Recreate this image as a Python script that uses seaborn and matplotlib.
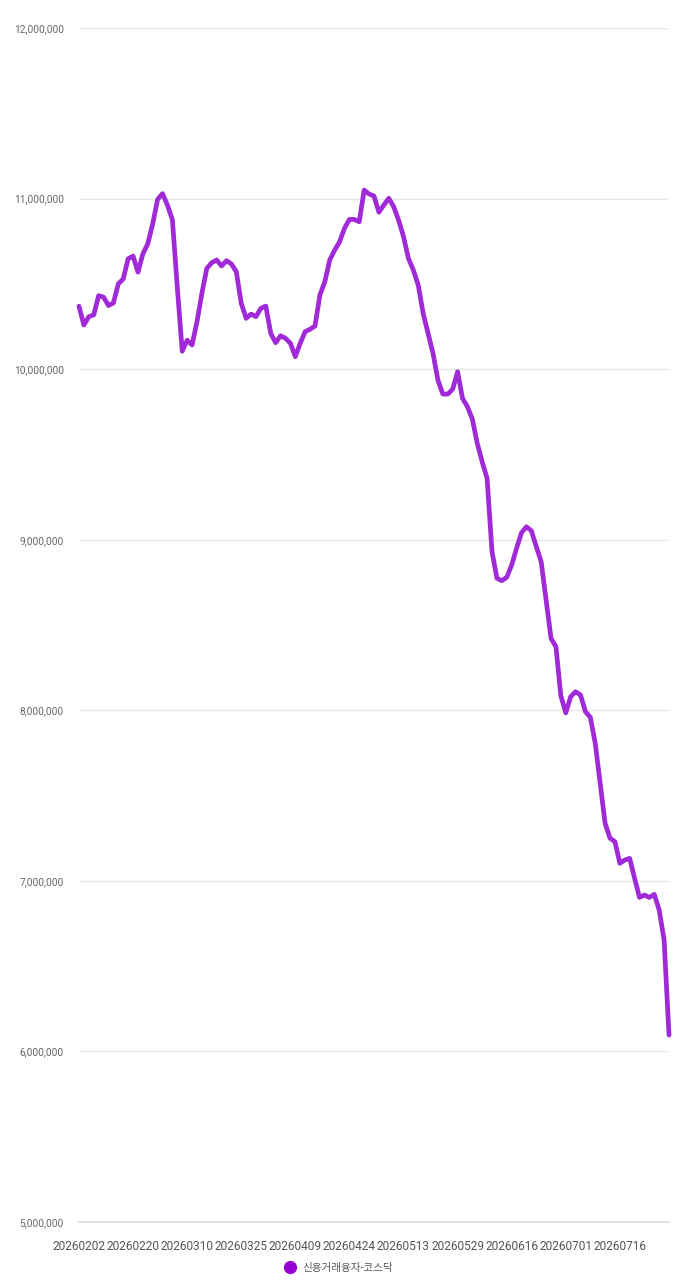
import pandas as pd
import matplotlib
matplotlib.use("Agg")
import matplotlib.pyplot as plt
from matplotlib.lines import Line2D
from matplotlib.ticker import FuncFormatter
import seaborn as sns

# Trading days (KRX calendar, Korean market holidays removed)
holidays = ["2026-02-16", "2026-02-17", "2026-02-18", "2026-03-02",
            "2026-05-01", "2026-05-05", "2026-05-25", "2026-06-03"]
dates = [d.strftime("%Y%m%d") for d in
         pd.bdate_range("2026-02-02", periods=121, freq="C", holidays=holidays)]

# Margin loan balance, KOSDAQ (in millions)
values_m = [
    10.369, 10.259, 10.308, 10.318, 10.431, 10.422, 10.373, 10.388, 10.500, 10.529,
    10.647, 10.663, 10.569, 10.676, 10.735, 10.853, 10.996, 11.029, 10.961, 10.876,
    10.480, 10.105, 10.170, 10.142, 10.278, 10.445, 10.591, 10.624, 10.640, 10.605,
    10.636, 10.617, 10.571, 10.386, 10.298, 10.323, 10.308, 10.357, 10.370, 10.210,
    10.155, 10.196, 10.181, 10.152, 10.073, 10.152, 10.220, 10.234, 10.253, 10.435,
    10.513, 10.640, 10.698, 10.747, 10.826, 10.878, 10.878, 10.864, 11.050, 11.027,
    11.015, 10.920, 10.962, 11.002, 10.953, 10.874, 10.777, 10.650, 10.581, 10.493,
    10.327, 10.210, 10.093, 9.936, 9.854, 9.854, 9.882, 9.985, 9.829, 9.780,
    9.708, 9.565, 9.457, 9.360, 8.930, 8.774, 8.760, 8.780, 8.852, 8.950,
    9.041, 9.076, 9.053, 8.960, 8.871, 8.647, 8.422, 8.373, 8.085, 7.985,
    8.080, 8.109, 8.090, 7.992, 7.959, 7.806, 7.572, 7.337, 7.250, 7.230,
    7.103, 7.122, 7.132, 7.015, 6.903, 6.917, 6.903, 6.921, 6.829, 6.653,
    6.096,
]
series_name = "신용거래융자-코스닥"

df = pd.DataFrame({"date": dates, "value": [v * 1_000_000 for v in values_m]})

sns.set_theme(style="white")
plt.rcParams["font.family"] = ["Roboto", "Noto Sans CJK KR", "DejaVu Sans"]

fig = plt.figure(figsize=(6.79, 12.8), dpi=100)
ax = fig.add_axes([0.1163, 0.0453, 0.869, 0.9328])

line_color = "#a02ad8"
sns.lineplot(data=df, x="date", y="value", ax=ax, color=line_color,
             linewidth=3.4, legend=False)
# let the line run over the plot edges like the original
for ln in ax.lines:
    ln.set_clip_on(False)

# axes ranges and ticks
ax.set_xlim(0, len(dates) - 1)
ax.set_ylim(5_000_000, 12_000_000)
ax.set_yticks(range(5_000_000, 12_000_001, 1_000_000))
ax.yaxis.set_major_formatter(FuncFormatter(lambda v, _: f"{int(v):,}"))

label_pos = list(range(0, len(dates), 11))
ax.set_xticks(label_pos)
ax.set_xticklabels([dates[i] for i in label_pos])
ax.set_xticks(list(range(0, len(dates), 12)), minor=True)

ax.tick_params(axis="x", which="major", length=0, pad=13, labelsize=8.6,
               labelcolor="#555555")
ax.tick_params(axis="x", which="minor", length=5, width=1, color="#e0e0e0")
ax.tick_params(axis="y", length=0, pad=11, labelsize=7.3, labelcolor="#666666")

ax.set_xlabel("")
ax.set_ylabel("")
ax.yaxis.grid(True, color="#e8e8e8", linewidth=1)
ax.xaxis.grid(False)
for side in ["top", "right", "left"]:
    ax.spines[side].set_visible(False)
ax.spines["bottom"].set_color("#dddddd")
ax.spines["bottom"].set_linewidth(1.2)

# legend at the bottom
handle = Line2D([], [], marker="o", linestyle="none", markersize=8.5,
                markerfacecolor="#9400d3", markeredgecolor="#9400d3")
fig.legend([handle], [series_name], loc="center", bbox_to_anchor=(0.495, 0.0094),
           frameon=False, fontsize=7.6, handletextpad=0.1, labelcolor="#555555")

fig.savefig("out.png", dpi=100)
plt.close(fig)
